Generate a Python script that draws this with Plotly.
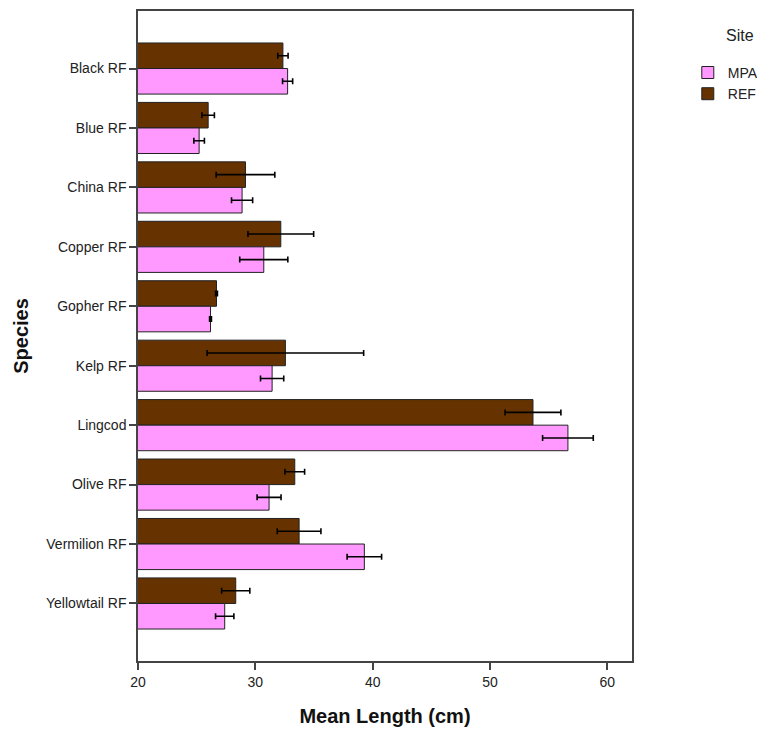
import plotly.graph_objects as go

species = ["Black RF", "Blue RF", "China RF", "Copper RF", "Gopher RF",
           "Kelp RF", "Lingcod", "Olive RF", "Vermilion RF", "Yellowtail RF"]

mpa_mean = [32.75, 25.21, 28.87, 30.72, 26.18, 31.43, 56.64, 31.17, 39.29, 27.39]
mpa_err = [0.43, 0.45, 0.90, 2.05, 0.08, 0.99, 2.16, 1.02, 1.47, 0.78]

ref_mean = [32.35, 25.98, 29.16, 32.17, 26.69, 32.56, 53.66, 33.36, 33.73, 28.33]
ref_err = [0.44, 0.53, 2.50, 2.80, 0.08, 6.67, 2.38, 0.84, 1.86, 1.20]

x_ticks = [20, 30, 40, 50, 60]

FONT = "Liberation Sans, Arial, sans-serif"

fig = go.Figure()
fig.add_trace(go.Bar(
    name="REF", y=species, x=ref_mean, orientation="h",
    marker=dict(color="#663300", line=dict(color="#222222", width=1)),
    error_x=dict(type="data", array=ref_err, color="black", thickness=1.6, width=3),
))
fig.add_trace(go.Bar(
    name="MPA", y=species, x=mpa_mean, orientation="h",
    marker=dict(color="#FF99FF", line=dict(color="#222222", width=1)),
    error_x=dict(type="data", array=mpa_err, color="black", thickness=1.6, width=3),
))

# page body adds an 8px margin; the figure is sized to fit the 765x738 window
fig.update_layout(
    width=757, height=730,
    margin=dict(l=129.5, r=133.3, t=2.7, b=77.3, autoexpand=False),
    paper_bgcolor="white", plot_bgcolor="white",
    barmode="group", bargap=0.14, bargroupgap=0,
    font=dict(family=FONT, size=14, color="#222222"),
    legend=dict(
        x=0.898, y=0.933, xref="container", yref="container",
        xanchor="left", yanchor="top",
        traceorder="reversed",
        font=dict(size=14, family=FONT),
        itemwidth=30, tracegroupgap=0,
        bgcolor="rgba(0,0,0,0)",
    ),
    annotations=[dict(
        text="Site", x=1.219, y=0.9626, xref="paper", yref="paper",
        xanchor="center", yanchor="middle", showarrow=False,
        font=dict(size=16, family=FONT, color="#222222"),
    )],
)

fig.update_xaxes(
    range=[20, 62.1], tickvals=x_ticks, ticktext=[str(v) for v in x_ticks],
    showgrid=False, zeroline=False,
    showline=True, linecolor="#444444", linewidth=1.5, mirror=True,
    ticks="outside", ticklen=7, tickcolor="#444444", tickwidth=1.5,
    tickfont=dict(size=14, family=FONT),
    title=dict(text="<b>Mean Length (cm)</b>", font=dict(size=20, family=FONT, color="#111111"), standoff=20),
)
fig.update_yaxes(
    type="category", categoryorder="array", categoryarray=species,
    range=[9.968, -0.968],
    showgrid=False, zeroline=False,
    showline=True, linecolor="#444444", linewidth=1.5, mirror=True,
    ticks="outside", ticklen=7, tickcolor="#444444", tickwidth=1.5,
    tickfont=dict(size=14, family=FONT),
    title=dict(text="<b>Species</b>", font=dict(size=20, family=FONT, color="#111111"), standoff=12),
)

fig.write_html("out.html")
